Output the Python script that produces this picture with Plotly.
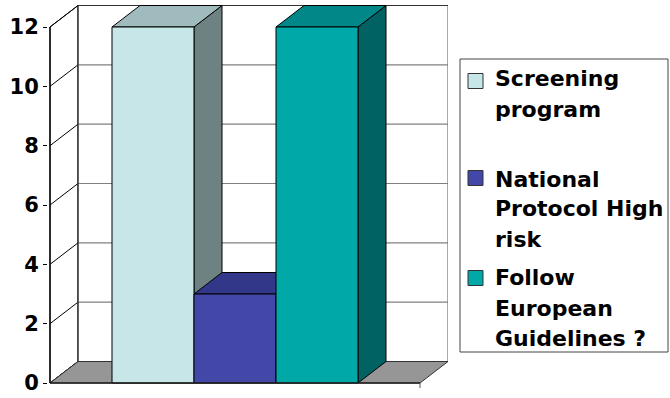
import plotly.graph_objects as go

# ---- data ----
series = ["Screening program", "National Protocol High risk", "Follow European Guidelines ?"]
values = [12, 3, 12]
tick_vals = [0, 2, 4, 6, 8, 10, 12]
legend_lines = [["Screening", "program"], ["National", "Protocol High", "risk"],
                ["Follow", "European", "Guidelines ?"]]

# ---- styles ----
front_col = ["#C6E6E8", "#4348A8", "#00A8A8"]
top_col = ["#9FBBBD", "#33378A", "#008787"]
side_col = ["#6F8283", "#2A2D70", "#006262"]
FONT = "DejaVu Sans"

W, H = 670, 398
PXX, C0 = 82.0, 153.0          # px per category unit, px of first bar centre
PXY, Y0 = 356.0 / 12, 383.0     # px per value unit, px of value 0
ML, MR_PX, MT, MB_PX = 48, 448, 5, 390


def vx(px):
    return (px - C0) / PXX


def vy(px):
    return (Y0 - px) / PXY


xL, xR = vx(50), vx(420)
dx, dy = 28 / PXX, 21.5 / PXY
ymax = max(tick_vals)

fig = go.Figure()


def poly(xs, ys, fill, line="#000000", lw=1):
    fig.add_trace(go.Scatter(x=xs + [xs[0]], y=ys + [ys[0]], mode="lines", fill="toself",
                             fillcolor=fill, line=dict(color=line, width=lw),
                             hoverinfo="skip", showlegend=False))


def seg(xs, ys, color, lw=1):
    fig.add_trace(go.Scatter(x=xs, y=ys, mode="lines", line=dict(color=color, width=lw),
                             hoverinfo="skip", showlegend=False))


# left wall and back wall
poly([xL, xL + dx, xL + dx, xL], [0, dy, ymax + dy, ymax], "#FFFFFF", "#000000")
poly([xL + dx, xR + dx, xR + dx, xL + dx], [dy, dy, ymax + dy, ymax + dy], "#FFFFFF", "#555555")
for t in tick_vals[1:-1]:
    seg([xL + dx, xR + dx], [t + dy, t + dy], "#808080", 1.2)
for t in tick_vals:
    seg([xL, xL + dx], [t, t + dy], "#000000", 1)
seg([xL + dx, xL + dx], [dy, ymax + dy], "#333333", 1.2)
seg([xL + dx, xR + dx], [ymax + dy, ymax + dy], "#333333", 1.2)

# floor
poly([xL, xR, xR + dx, xL + dx], [0, 0, dy, dy], "#969696", "#333333")

# bars (3D faces)
for i, v in enumerate(values):
    x0, x1 = i - 0.5, i + 0.5
    poly([x1, x1 + dx, x1 + dx, x1], [0, dy, v + dy, v], side_col[i])
    poly([x0, x1, x1 + dx, x0 + dx], [v, v, v + dy, v + dy], top_col[i])
    poly([x0, x1, x1, x0], [0, 0, v, v], front_col[i])

# front axes
seg([xL, xL], [0, ymax], "#000000", 1.3)
seg([xL, xR], [0, 0], "#222222", 1.5)
seg([xR, xR], [0, vy(388)], "#555555", 1)

fig.update_xaxes(range=[vx(ML), vx(MR_PX)], visible=False, fixedrange=True)
fig.update_yaxes(range=[vy(MB_PX), vy(MT)], tickvals=tick_vals, ticktext=[str(t) for t in tick_vals],
                 showgrid=False, zeroline=False, showline=False, ticks="outside", ticklen=4,
                 tickcolor="#000000", ticklabelstandoff=0, automargin=False,
                 tickfont=dict(family=FONT, size=21, color="#000000", weight="bold"))


def pxp(px):
    return (px - ML) / (MR_PX - ML)


def pyp(py):
    return (MB_PX - py) / (MB_PX - MT)


shapes = [dict(type="rect", xref="paper", yref="paper", x0=pxp(460), x1=pxp(668), y0=pyp(59), y1=pyp(352),
               line=dict(color="#444444", width=1), fillcolor="rgba(0,0,0,0)")]
sq_centres = [81, 178, 278]
line_ys = [[79, 110], [179, 209, 239], [277, 308, 338]]
annotations = []
for i, c in enumerate(sq_centres):
    shapes.append(dict(type="rect", xref="paper", yref="paper", x0=pxp(468), x1=pxp(483),
                       y0=pyp(c + 7.5), y1=pyp(c - 7.5), fillcolor=front_col[i],
                       line=dict(color="#333333", width=1)))
    for txt, yy in zip(legend_lines[i], line_ys[i]):
        annotations.append(dict(xref="paper", yref="paper", x=pxp(493), y=pyp(yy), text=txt,
                                showarrow=False, xanchor="left", yanchor="middle",
                                font=dict(family=FONT, size=22, color="#000000", weight="bold")))

fig.update_layout(width=W, height=H, margin=dict(l=ML, r=W - MR_PX, t=MT, b=H - MB_PX),
                  plot_bgcolor="#FFFFFF", paper_bgcolor="#FFFFFF", showlegend=False,
                  shapes=shapes, annotations=annotations)

fig.write_html("out.html")
